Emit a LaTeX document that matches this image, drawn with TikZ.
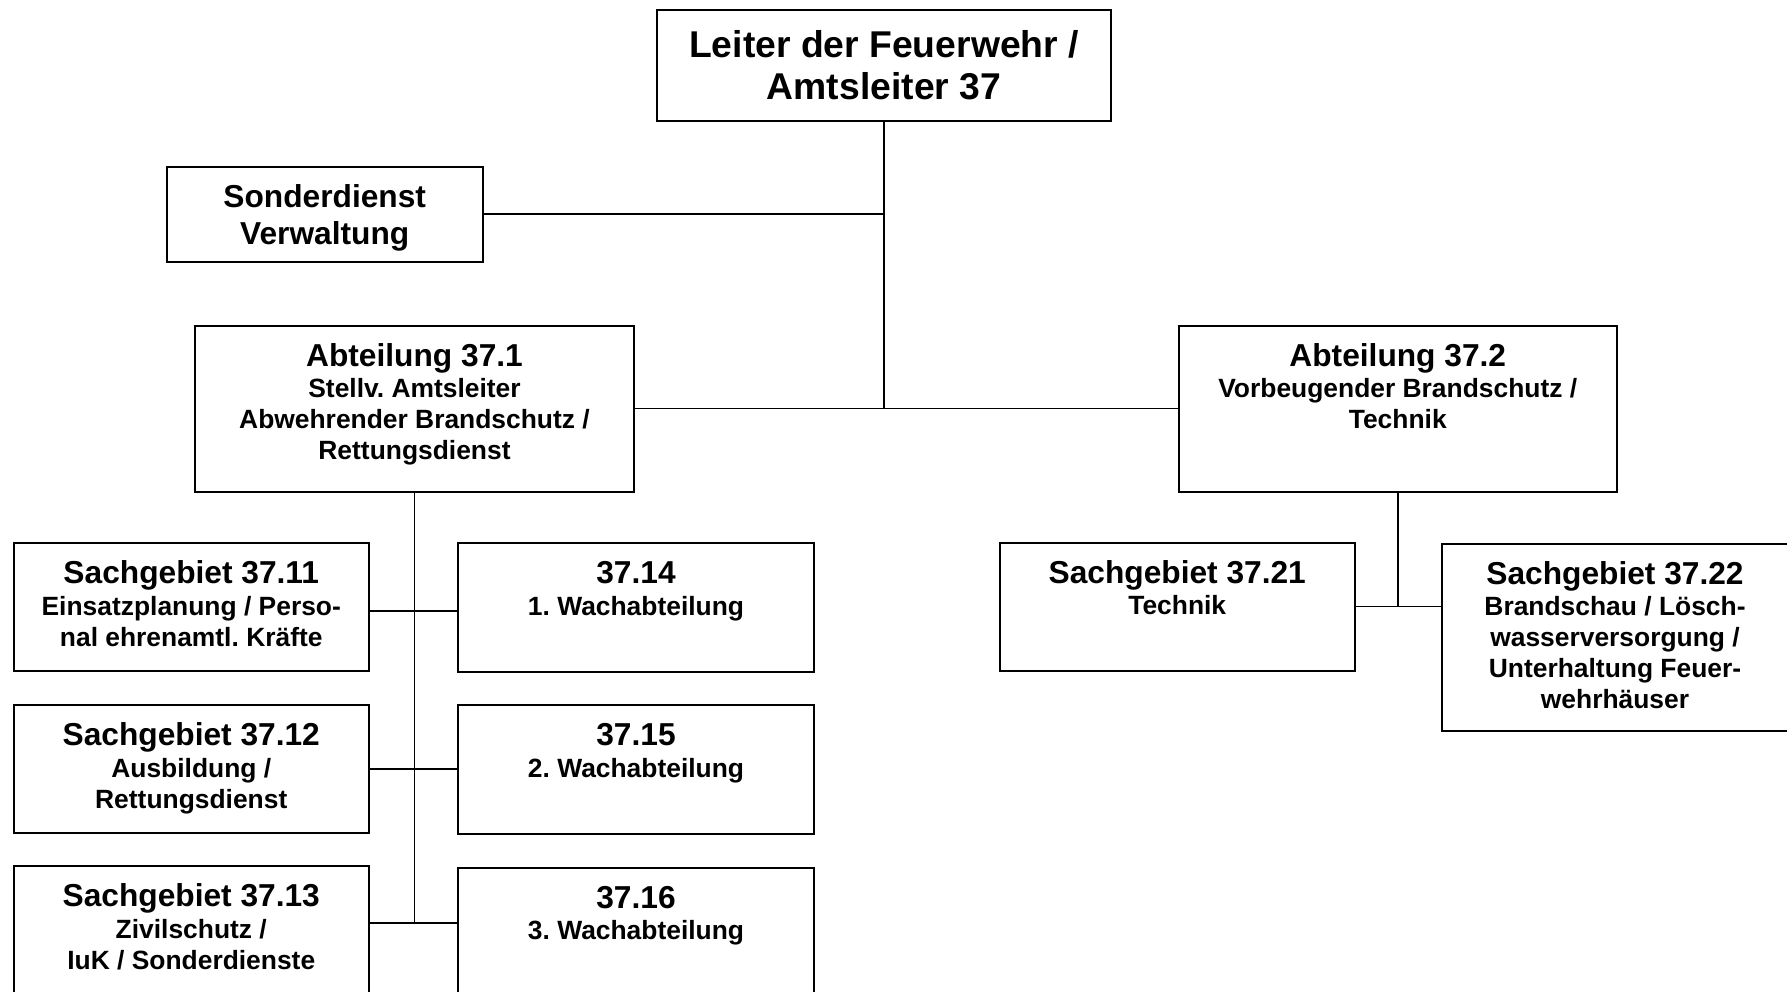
\documentclass[tikz,border=0pt]{standalone}
\usepackage{fontspec}
\setmainfont{Liberation Sans}
\frenchspacing
\newcommand\headline[1]{{\fontsize{31.7}{31}\selectfont\rule{0pt}{30pt}#1}\\[0.5pt]}
\begin{document}
\begin{tikzpicture}[x=1pt,y=-1pt,
  unit/.style={draw=black, line width=2pt, fill=white, inner sep=0pt, outer sep=0pt},
  caption/.style={anchor=north, align=center, inner sep=0pt,
    font=\fontsize{26.4}{31}\selectfont\bfseries},
  link/.style={line width=1.8pt}]
\useasboundingbox (0,0) rectangle (1787,991);

% boxes
\node[unit, minimum width=454pt, minimum height=111pt] (chief) at (884,65.5) {};
\node[unit, minimum width=315.5pt, minimum height=95.5pt] (sonder) at (324.75,214.25) {};
\node[unit, minimum width=439pt, minimum height=166pt] (a1) at (414.5,408.5) {};
\node[unit, minimum width=438.5pt, minimum height=166pt] (a2) at (1397.75,408.5) {};
\node[unit, minimum width=355.5pt, minimum height=128pt] (s11) at (191.25,607) {};
\node[unit, minimum width=355.5pt, minimum height=128pt] (s12) at (191.25,769) {};
\node[unit, minimum width=355.5pt, minimum height=128pt] (s13) at (191.25,930) {};
\node[unit, minimum width=356pt, minimum height=129pt] (w14) at (636,607.5) {};
\node[unit, minimum width=356pt, minimum height=129pt] (w15) at (636,769.5) {};
\node[unit, minimum width=356pt, minimum height=129pt] (w16) at (636,932) {};
\node[unit, minimum width=355.5pt, minimum height=128pt] (s21) at (1177.25,606.5) {};
\node[unit, minimum width=346pt, minimum height=187.5pt] (s22) at (1615,637.25) {};

% texts
\node[caption, font=\fontsize{37.3}{42.5}\selectfont\bfseries] (chief-t) at ([yshift=-17pt]chief.north)
  {\rule{0pt}{30pt}Leiter der Feuerwehr /\\Amtsleiter 37};
\node[caption, font=\fontsize{31.7}{37}\selectfont\bfseries] (sonder-t) at ([yshift=-11pt]sonder.north)
  {\rule{0pt}{30pt}Sonderdienst\\Verwaltung};
\node[caption] (a1-t) at ([yshift=-10.5pt]a1.north)
  {\headline{Abteilung 37.1}Stellv. Amtsleiter\\Abwehrender Brandschutz /\\Rettungsdienst};
\node[caption] (a2-t) at ([yshift=-10.5pt]a2.north)
  {\headline{Abteilung 37.2}Vorbeugender Brandschutz /\\Technik};
\node[caption] (s11-t) at ([yshift=-10.5pt]s11.north)
  {\headline{Sachgebiet 37.11}Einsatzplanung / Perso-\\nal ehrenamtl. Kräfte};
\node[caption] (s12-t) at ([yshift=-10.5pt]s12.north)
  {\headline{Sachgebiet 37.12}Ausbildung /\\Rettungsdienst};
\node[caption] (s13-t) at ([yshift=-10.5pt]s13.north)
  {\headline{Sachgebiet 37.13}Zivilschutz /\\IuK / Sonderdienste};
\node[caption] (w14-t) at ([yshift=-10.5pt]w14.north)
  {\headline{37.14}1. Wachabteilung};
\node[caption] (w15-t) at ([yshift=-10.5pt]w15.north)
  {\headline{37.15}2. Wachabteilung};
\node[caption] (w16-t) at ([yshift=-10.5pt]w16.north)
  {\headline{37.16}3. Wachabteilung};
\node[caption] (s21-t) at ([yshift=-10.5pt]s21.north)
  {\headline{Sachgebiet 37.21}Technik};
\node[caption] (s22-t) at ([yshift=-10.5pt]s22.north)
  {\headline{Sachgebiet 37.22}Brandschau / Lösch-\\wasserversorgung /\\Unterhaltung Feuer-\\wehrhäuser};

% junction levels of the left branch
\coordinate (r1) at (0,611);
\coordinate (r2) at (0,769);
\coordinate (r3) at (0,923);

% connectors
\draw[link] (chief.south) -- (chief.south |- a1.east);
\draw[link] (sonder.east) -- (sonder.east -| chief.south);
\draw[link] (a1.east) -- (a2.west);
\draw[link] (a1.south) -- (a1.south |- r3);
\draw[link] (s11.east |- r1) -- (w14.west |- r1);
\draw[link] (s12.east |- r2) -- (w15.west |- r2);
\draw[link] (s13.east |- r3) -- (w16.west |- r3);
\draw[link] (a2.south) -- (a2.south |- s21.east);
\draw[link] (s21.east) -- (s22.west |- s21.east);
\end{tikzpicture}
\end{document}
